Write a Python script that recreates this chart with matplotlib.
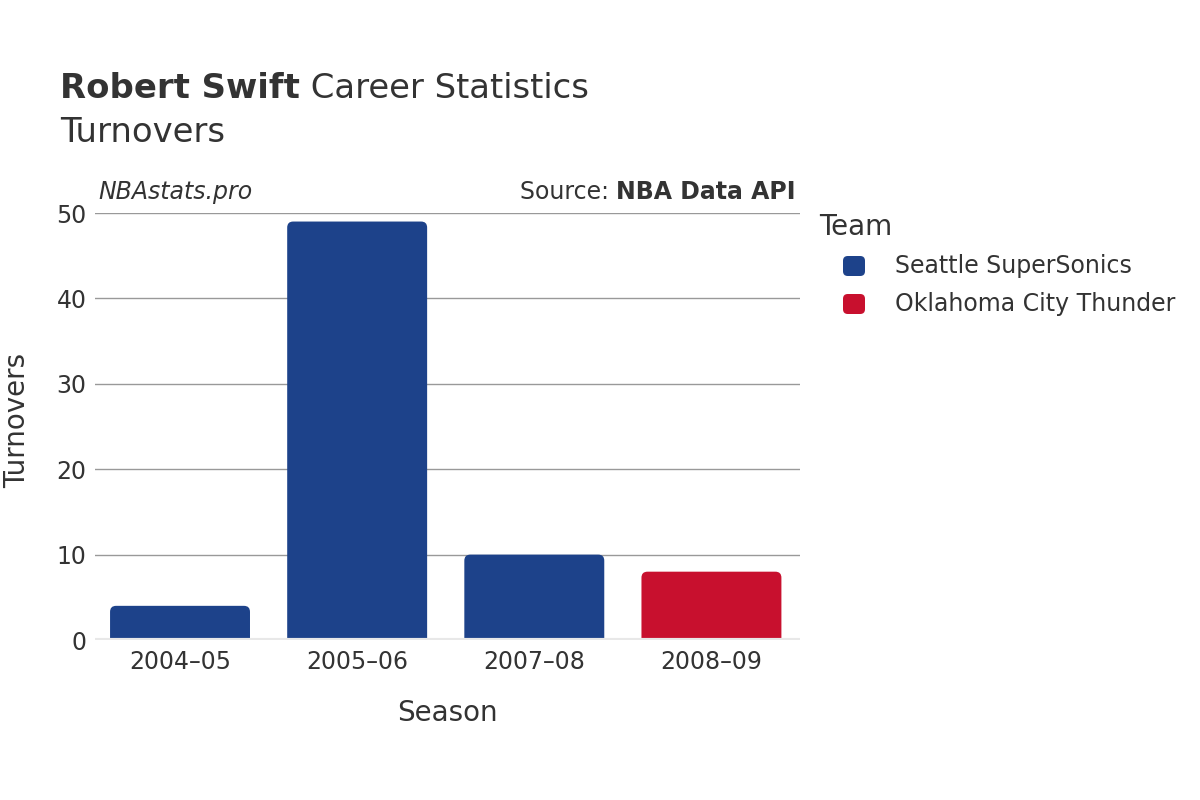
import matplotlib
matplotlib.use("Agg")
import matplotlib.pyplot as plt
from matplotlib.patches import FancyBboxPatch

seasons = ["2004\u201305", "2005\u201306", "2007\u201308", "2008\u201309"]
turnovers = [4, 49, 10, 8]
bar_teams = ["Seattle SuperSonics", "Seattle SuperSonics", "Seattle SuperSonics", "Oklahoma City Thunder"]
teams = ["Seattle SuperSonics", "Oklahoma City Thunder"]
team_colors = {"Seattle SuperSonics": "#1d428a", "Oklahoma City Thunder": "#c8102e"}

text_c = "#333333"
W, H = 1200, 800

fig = plt.figure(figsize=(12, 8), dpi=100)
ax = fig.add_axes([95 / W, 1 - 640 / H, 705 / W, 427 / H])

x0, x1 = -0.48, 3.5
ax.set_xlim(x0, x1)
ax.set_ylim(0, 50)

# rounded tops, bottom pushed below 0 so it gets clipped
bar_w = 0.79
px_x = 705 / (x1 - x0)
px_y = 427 / 50
r_px = 6
for i, (val, team) in enumerate(zip(turnovers, bar_teams)):
    rs = r_px / px_x
    aspect = (r_px / px_y) / rs
    p = FancyBboxPatch((i - bar_w / 2, -2), bar_w, val + 2,
                       boxstyle=f"round,pad=0,rounding_size={rs}",
                       mutation_aspect=aspect,
                       facecolor=team_colors[team], edgecolor="none", zorder=2)
    ax.add_patch(p)

ax.set_yticks([0, 10, 20, 30, 40, 50])
ax.yaxis.grid(True, color="#999999", linewidth=1)
ax.set_axisbelow(True)
ax.axhline(0, color="#e8e8e8", linewidth=3, zorder=3)
ax.set_xticks(range(len(seasons)))
ax.set_xticklabels(seasons)
ax.tick_params(axis="both", length=0, labelsize=17, labelcolor=text_c)
ax.tick_params(axis="x", pad=7)
ax.tick_params(axis="y", pad=6)
for s in ax.spines.values():
    s.set_visible(False)

ax.set_xlabel("Season", fontsize=20, color=text_c, labelpad=18)
fig.text(17 / W, 1 - 420 / H, "Turnovers", rotation=90, fontsize=20, color=text_c,
         ha="center", va="center")

# title
t1 = fig.text(60 / W, 1 - 88 / H, "Robert Swift", fontsize=24.4, fontweight="bold",
              color=text_c, va="center", ha="left")
fig.canvas.draw()
bb = t1.get_window_extent()
fig.text(bb.x1 / W, 1 - 88 / H, " Career Statistics", fontsize=24.4, color=text_c,
         va="center", ha="left")
fig.text(60 / W, 1 - 132 / H, "Turnovers", fontsize=24.4, color=text_c, va="center", ha="left")

fig.text(98 / W, 1 - 192 / H, "NBAstats.pro", fontsize=17, style="italic", color=text_c,
         va="center", ha="left")
s2 = fig.text(796 / W, 1 - 192 / H, "NBA Data API", fontsize=17, fontweight="bold",
              color=text_c, va="center", ha="right")
fig.canvas.draw()
bb2 = s2.get_window_extent()
fig.text(bb2.x0 / W, 1 - 192 / H, "Source: ", fontsize=17, color=text_c,
         va="center", ha="right")

# legend
fig.text(819 / W, 1 - 227 / H, "Team", fontsize=20, color=text_c, va="center", ha="left")
for k, team in enumerate(teams):
    yc = 266 + 38 * k
    sq = FancyBboxPatch((843 / W, 1 - (yc + 10) / H), 22 / W, 20 / H,
                        boxstyle="round,pad=0,rounding_size=0.004",
                        mutation_aspect=1.5,
                        transform=fig.transFigure, facecolor=team_colors[team],
                        edgecolor="none")
    fig.patches.append(sq)
    fig.text(895 / W, 1 - yc / H, team, fontsize=17, color=text_c, va="center", ha="left")

fig.savefig("out.png", dpi=100, facecolor="white")
